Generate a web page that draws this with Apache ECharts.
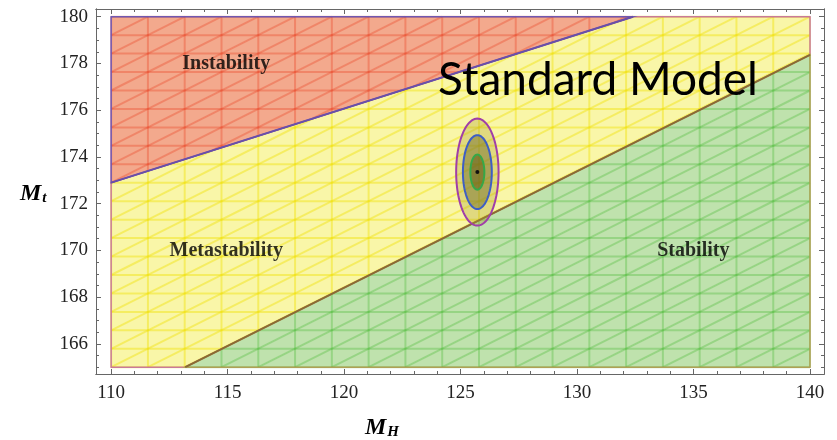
<!DOCTYPE html>
<html><head><meta charset="utf-8">
<script src="https://cdn.jsdelivr.net/npm/echarts@6/dist/echarts.min.js"></script>
<style>html,body{margin:0;padding:0;background:#fff}#c{width:837px;height:440px}</style>
</head><body><div id="c"></div>
<script>
// ---- data ----
const xMajorTicks = [110, 115, 120, 125, 130, 135, 140];
const xMinorTicks = [110, 111, 112, 113, 114, 115, 116, 117, 118, 119, 120, 121, 122, 123, 124, 125, 126, 127, 128, 129, 130, 131, 132, 133, 134, 135, 136, 137, 138, 139, 140];
const yMajorTicks = [166, 168, 170, 172, 174, 176, 178, 180];
const yMinorTicks = [165, 165.5, 166, 166.5, 167, 167.5, 168, 168.5, 169, 169.5, 170, 170.5, 171, 171.5, 172, 172.5, 173, 173.5, 174, 174.5, 175, 175.5, 176, 176.5, 177, 177.5, 178, 178.5, 179, 179.5, 180];

const instabilityRegion = [[110, 172.9], [110, 180], [132.4, 180]];
const metastabilityRegion = [[110, 165], [113.18, 165], [140, 178.37], [140, 180], [132.4, 180], [110, 172.9]];
const stabilityRegion = [[113.18, 165], [140, 165], [140, 178.37]];
const instabilityLine = [[110, 172.9], [132.4, 180]];
const stabilityLine = [[113.18, 165], [140, 178.37]];

const ellipseCenter = [125.72, 173.35];
const ellipseRadii = [[0.91, 2.29], [0.62, 1.58], [0.30, 0.75]];

const regionLabels = ['Instability', 'Metastability', 'Stability'];
const regionLabelX = [114.94, 114.94, 134.99];
const regionLabelY = [177.99, 169.98, 169.98];
const titleText = 'Standard Model';

// ---- style ----
const X_MIN = 109.35, X_MAX = 140.6, Y_MIN = 164.71, Y_MAX = 180.33;
const MESH_X0 = 110, MESH_X1 = 140, MESH_Y0 = 165, MESH_Y1 = 180, MESH_N = 19;

function clipSeg(p0, p1, poly) {
  let area = 0;
  for (let i = 0; i < poly.length; i++) {
    const a = poly[i], b = poly[(i + 1) % poly.length];
    area += a[0] * b[1] - b[0] * a[1];
  }
  const s = area > 0 ? 1 : -1;
  let t0 = 0, t1 = 1;
  const D = [p1[0] - p0[0], p1[1] - p0[1]];
  for (let i = 0; i < poly.length; i++) {
    const A = poly[i], B = poly[(i + 1) % poly.length];
    const E = [B[0] - A[0], B[1] - A[1]];
    const num = s * (E[0] * (p0[1] - A[1]) - E[1] * (p0[0] - A[0]));
    const den = s * (E[0] * D[1] - E[1] * D[0]);
    if (Math.abs(den) < 1e-9) { if (num < -1e-6) return null; continue; }
    const t = -num / den;
    if (den > 0) t0 = Math.max(t0, t); else t1 = Math.min(t1, t);
    if (t0 > t1) return null;
  }
  return [[p0[0] + t0 * D[0], p0[1] + t0 * D[1]], [p0[0] + t1 * D[0], p0[1] + t1 * D[1]]];
}

function regionSeries(region, fill, meshColor, edgeColor) {
  return {
    type: 'custom', coordinateSystem: 'cartesian2d', xAxisIndex: 0, yAxisIndex: 0,
    data: [[region[0][0], region[0][1]]], z: 2, silent: true, clip: false,
    renderItem: function (params, api) {
      const poly = region.map(p => api.coord(p));
      const children = [{ type: 'polygon', shape: { points: poly }, style: { fill: fill } }];
      const dx = (MESH_X1 - MESH_X0) / MESH_N, dy = (MESH_Y1 - MESH_Y0) / MESH_N;
      const segs = [];
      for (let k = 0; k <= MESH_N; k++) {
        const x = MESH_X0 + k * dx; segs.push([[x, MESH_Y0], [x, MESH_Y1]]);
        const y = MESH_Y0 + k * dy; segs.push([[MESH_X0, y], [MESH_X1, y]]);
      }
      for (let m = -MESH_N; m <= MESH_N; m++) {
        segs.push([[MESH_X0, MESH_Y0 + m * dy], [MESH_X1, MESH_Y1 + m * dy]]);
      }
      segs.forEach(sg => {
        const c = clipSeg(api.coord(sg[0]), api.coord(sg[1]), poly);
        if (c) children.push({ type: 'line', shape: { x1: c[0][0], y1: c[0][1], x2: c[1][0], y2: c[1][1] }, style: { stroke: meshColor, lineWidth: 2 } });
      });
      children.push({ type: 'polygon', shape: { points: poly }, style: { fill: null, stroke: edgeColor, lineWidth: 1.5 } });
      return { type: 'group', children: children };
    }
  };
}

function lineSeries(pts, color) {
  return {
    type: 'line', data: pts, symbol: 'none', z: 4, silent: true,
    lineStyle: { color: color, width: 2 }
  };
}

const ellipseStrokes = ['#a03ea8', '#3d5ec4', '#35a848'];
const ellipseFills = ['rgba(170,155,40,0.32)', 'rgba(115,112,45,0.5)', 'rgba(95,90,20,0.5)'];

const ellipseSeries = {
  type: 'custom', coordinateSystem: 'cartesian2d', z: 5, silent: true,
  data: ellipseRadii.map((r, i) => [ellipseCenter[0], ellipseCenter[1], r[0], r[1], i]),
  renderItem: function (params, api) {
    const c = api.coord([api.value(0), api.value(1)]);
    const sz = api.size([api.value(2), api.value(3)]);
    const i = api.value(4);
    const pts = [];
    for (let a = 0; a < 96; a++) {
      const th = a / 96 * Math.PI * 2;
      pts.push([c[0] + sz[0] * Math.cos(th), c[1] + sz[1] * Math.sin(th)]);
    }
    const children = [{ type: 'polygon', shape: { points: pts }, style: { fill: ellipseFills[i], stroke: ellipseStrokes[i], lineWidth: 2 } }];
    if (i === ellipseRadii.length - 1) children.push({ type: 'circle', shape: { cx: c[0], cy: c[1], r: 2 }, style: { fill: '#111' } });
    return { type: 'group', children: children };
  }
};

const labelSeries = {
  type: 'scatter', symbolSize: 0, z: 6, silent: true,
  data: regionLabels.map((n, i) => ({ name: n, value: [regionLabelX[i], regionLabelY[i]] })),
  label: {
    show: true, position: 'inside', formatter: p => p.name,
    fontFamily: 'Liberation Serif', fontWeight: 'bold', fontSize: 20, color: '#000'
  }
};

function xAx(pos, ticks, len, labels) {
  return {
    type: 'value', position: pos, min: X_MIN, max: X_MAX, gridIndex: 0,
    axisLine: { show: true, onZero: false, lineStyle: { color: '#666', width: 1 } },
    axisTick: { show: true, inside: true, length: len, customValues: ticks, lineStyle: { color: '#666' } },
    axisLabel: labels ? { show: true, customValues: ticks, margin: 10, fontFamily: 'Liberation Serif', fontSize: 19, color: '#222' } : { show: false },
    splitLine: { show: false }
  };
}
function yAx(pos, ticks, len, labels) {
  return {
    type: 'value', position: pos, min: Y_MIN, max: Y_MAX, gridIndex: 0,
    axisLine: { show: true, onZero: false, lineStyle: { color: '#666', width: 1 } },
    axisTick: { show: true, inside: true, length: len, customValues: ticks, lineStyle: { color: '#666' } },
    axisLabel: labels ? { show: true, customValues: ticks, margin: 8, fontFamily: 'Liberation Serif', fontSize: 19, color: '#222' } : { show: false },
    splitLine: { show: false }
  };
}

const chart = echarts.init(document.getElementById('c'), null, { renderer: 'canvas' });
chart.setOption({
  animation: false,
  backgroundColor: '#fff',
  grid: { left: 96, right: 13, top: 9, bottom: 66, containLabel: false, outerBoundsMode: 'none' },
  xAxis: [xAx('bottom', xMajorTicks, 5, true), xAx('bottom', xMinorTicks, 3, false), xAx('top', xMajorTicks, 5, false), xAx('top', xMinorTicks, 3, false)],
  yAxis: [yAx('left', yMajorTicks, 5, true), yAx('left', yMinorTicks, 3, false), yAx('right', yMajorTicks, 5, false), yAx('right', yMinorTicks, 3, false)],
  graphic: [
    { type: 'text', z: 10, style: { x: 598, y: 80, text: titleText, align: 'center', verticalAlign: 'middle', font: '46px Lato', fill: '#000' } },
    { type: 'text', z: 10, style: { x: 20, y: 181, text: '{m|M}{s|t}', rich: { m: { font: 'italic bold 24px "Liberation Serif"', fill: '#000' }, s: { font: 'italic bold 15px "Liberation Serif"', fill: '#000', padding: [10, 0, 0, 1] } } } },
    { type: 'text', z: 10, style: { x: 365, y: 415, text: '{m|M}{s|H}', rich: { m: { font: 'italic bold 24px "Liberation Serif"', fill: '#000' }, s: { font: 'italic bold 15px "Liberation Serif"', fill: '#000', padding: [10, 0, 0, 1] } } } }
  ],
  series: [
    regionSeries(metastabilityRegion, '#f9f6a8', 'rgba(240,225,0,0.42)', '#c97a9a'),
    regionSeries(instabilityRegion, '#f3a98d', 'rgba(235,60,30,0.33)', '#6f58b2'),
    regionSeries(stabilityRegion, '#bfe2ad', 'rgba(70,185,50,0.33)', '#b0a055'),
    lineSeries(instabilityLine, '#6a4fa8'),
    lineSeries(stabilityLine, '#8b6a35'),
    ellipseSeries,
    labelSeries
  ]
});
</script></body></html>
